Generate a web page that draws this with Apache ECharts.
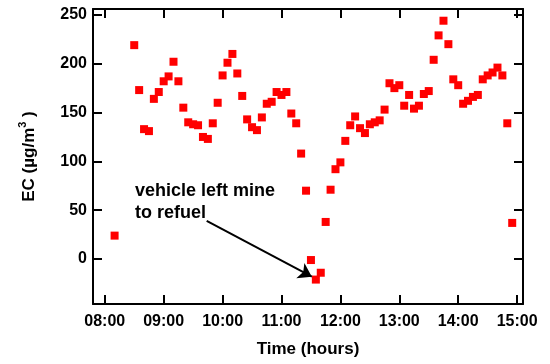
<!DOCTYPE html>
<html><head><meta charset="utf-8">
<script src="https://cdn.jsdelivr.net/npm/echarts@6/dist/echarts.min.js"></script>
<style>html,body{margin:0;padding:0;background:#fff}#c{width:550px;height:364px}</style>
</head><body><div id="c"></div>
<script>
const times = ["08:10","08:30","08:35","08:40","08:45","08:50","08:55","09:00","09:05","09:10","09:15","09:20","09:25","09:30","09:35","09:40","09:45","09:50","09:55","10:00","10:05","10:10","10:15","10:20","10:25","10:30","10:35","10:40","10:45","10:50","10:55","11:00","11:05","11:10","11:15","11:20","11:25","11:30","11:35","11:40","11:45","11:50","11:55","12:00","12:05","12:10","12:15","12:20","12:25","12:30","12:35","12:40","12:45","12:50","12:55","13:00","13:05","13:10","13:15","13:20","13:25","13:30","13:35","13:40","13:45","13:50","13:55","14:00","14:05","14:10","14:15","14:20","14:25","14:30","14:35","14:40","14:45","14:50","14:55"];
const ecValues = [24,219,173,133,131,164,171,182,187,202,182,155,140,138,137,125,123,139,160,188,201,210,190,167,143,135,132,145,159,161,171,168,171,149,139,108,70,-1,-21,-14,38,71,92,99,121,137,146,134,129,138,140,142,153,180,175,178,157,168,154,157,169,172,204,229,244,220,184,178,159,162,166,168,184,188,191,196,188,139,37];
const xTickLabels = ["08:00","09:00","10:00","11:00","12:00","13:00","14:00","15:00"];
const yTickLabels = ["0","50","100","150","200","250"];
const annotationText = "vehicle left mine\nto refuel";
const arrowStart = [9.73, 39];
const arrowEnd = [11.515, -18];

const toHours = t => { const [h, m] = t.split(":").map(Number); return h + m / 60; };
const points = times.map((t, i) => [toHours(t), ecValues[i]]);

const FONT = "'Liberation Sans', Arial, sans-serif";
const X_MIN = 7.8, X_MAX = 15.1, Y_MIN = -46, Y_MAX = 256;
const axisLine = { show: true, onZero: false, lineStyle: { color: '#000', width: 2 } };
const axisTick = { show: true, inside: true, length: 9, lineStyle: { color: '#000', width: 2 } };

const chart = echarts.init(document.getElementById('c'), null, { renderer: 'canvas' });
chart.setOption({
  animation: false,
  backgroundColor: '#fff',
  grid: { left: 93, right: 27, top: 9, bottom: 60, containLabel: false },
  xAxis: [{
    type: 'value', min: X_MIN, max: X_MAX, splitNumber: 7,
    position: 'bottom',
    axisLine, axisTick, splitLine: { show: false },
    axisLabel: {
      showMinLabel: false, showMaxLabel: false, margin: 10,
      color: '#000', fontFamily: FONT, fontWeight: 'bold', fontSize: 16,
      formatter: v => { const i = Math.round(v) - 8; return (Math.abs(v - Math.round(v)) < 1e-6 && xTickLabels[i]) ? xTickLabels[i] : ''; }
    },
    name: 'Time (hours)', nameLocation: 'middle', nameGap: 37,
    nameTextStyle: { color: '#000', fontFamily: FONT, fontWeight: 'bold', fontSize: 17 }
  }, {
    type: 'value', min: X_MIN, max: X_MAX, splitNumber: 7,
    position: 'top',
    axisLine, axisTick, splitLine: { show: false }, axisLabel: { show: false }
  }],
  yAxis: [{
    type: 'value', min: Y_MIN, max: Y_MAX, splitNumber: 6,
    position: 'left',
    axisLine, axisTick, splitLine: { show: false },
    axisLabel: {
      showMinLabel: false, showMaxLabel: false, margin: 6,
      color: '#000', fontFamily: FONT, fontWeight: 'bold', fontSize: 16,
      formatter: v => yTickLabels.includes(String(v)) ? String(v) : ''
    },
    name: 'EC (µg/m{sup|3} )', nameLocation: 'middle', nameGap: 52, nameRotate: 90,
    nameTextStyle: {
      color: '#000', fontFamily: FONT, fontWeight: 'bold', fontSize: 17,
      rich: { sup: { fontFamily: FONT, fontWeight: 'bold', fontSize: 11, color: '#000', verticalAlign: 'top', lineHeight: 24 } }
    }
  }, {
    type: 'value', min: Y_MIN, max: Y_MAX, splitNumber: 6,
    position: 'right',
    axisLine, axisTick, splitLine: { show: false }, axisLabel: { show: false }
  }],
  series: [{
    type: 'scatter',
    data: points,
    symbol: 'rect', symbolSize: 8,
    itemStyle: { color: '#ff0000', opacity: 1 },
    markLine: {
      silent: true,
      symbol: ['none', 'arrow'], symbolSize: 13,
      label: { show: false },
      lineStyle: { color: '#000', width: 2, type: 'solid', opacity: 1 },
      data: [[{ coord: arrowStart }, { coord: arrowEnd }]]
    }
  }],
  graphic: [{
    type: 'text', left: 135, top: 180,
    style: { text: annotationText, fill: '#000', font: 'bold 18px ' + FONT, lineHeight: 22 }
  }]
});
</script></body></html>
